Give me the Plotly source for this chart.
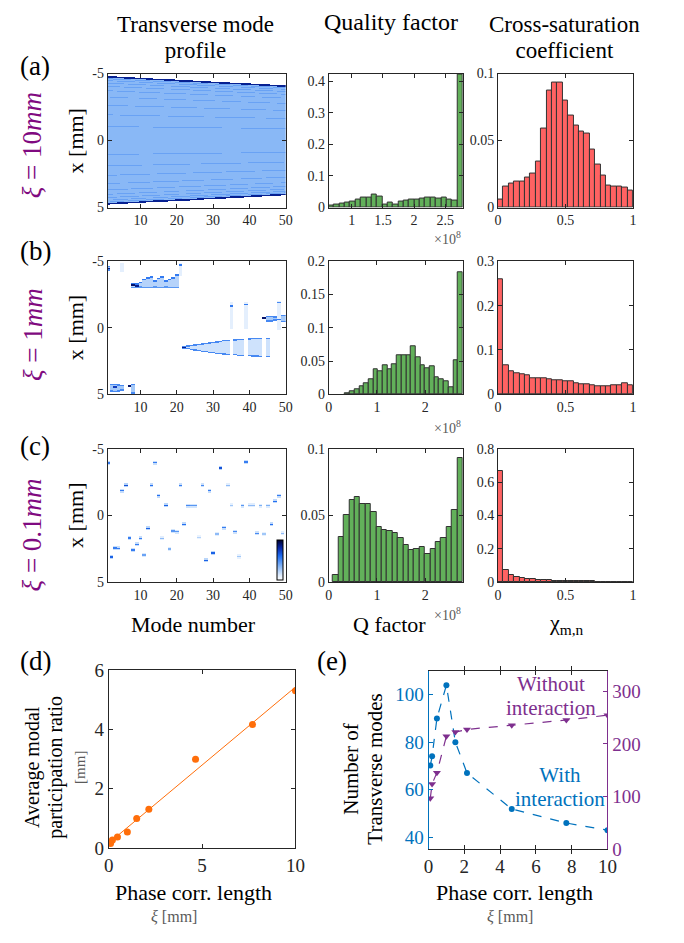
import numpy as np
import plotly.graph_objects as go

W, H = 684, 943
SERIF = "Liberation Serif, Times New Roman, serif"
AX = "rgb(38,38,38)"
XI_COL = "rgb(128,10,128)"
BLUE = "rgb(0,114,189)"
PURPLE = "rgb(126,47,142)"
ORANGE = "rgb(255,110,10)"
GREEN = "rgb(98,176,90)"
RED = "rgb(255,98,98)"
EDGE = "rgb(50,50,50)"
GREY = "rgb(90,90,90)"

# ---------------- data: transverse mode profiles ----------------
modes = list(range(1, 51))
mode_ticks = [10, 20, 30, 40, 50]
mm_ticks = [-5, 0, 5]

# (a) xi = 10 mm : envelope half-width of each mode [mm]
a_edge = [4.75, 4.74, 4.72, 4.71, 4.69, 4.68, 4.66, 4.65, 4.64, 4.62,
          4.61, 4.59, 4.58, 4.56, 4.55, 4.54, 4.52, 4.51, 4.49, 4.48,
          4.46, 4.45, 4.44, 4.42, 4.41, 4.39, 4.38, 4.36, 4.35, 4.34,
          4.32, 4.31, 4.29, 4.28, 4.26, 4.25, 4.24, 4.22, 4.21, 4.19,
          4.18, 4.16, 4.15, 4.14, 4.12, 4.11, 4.09, 4.08, 4.06, 4.05]
a_stripe_frac = [0.97, 0.94, 0.9, 0.85, 0.78, 0.68, 0.55, 0.4, 0.22]

# (b) xi = 1 mm
b_stair_mode = [8, 9, 10, 11, 12, 13, 14, 15, 16, 17, 18, 19, 20]
b_stair_top = [-3.3, -3.3, -3.4, -3.6, -3.75, -3.8, -3.5, -3.7, -3.8, -3.5, -3.65, -3.75, -3.95]
b_stair_bot = [-3.0, -3.0, -3.05, -3.0, -3.0, -3.0, -3.05, -3.0, -3.0, -3.05, -3.0, -3.0, -3.0]

b_wedge_mode = [22, 23, 24, 25, 26, 27, 28, 29, 30, 31, 32, 33, 34, 36, 37, 38, 40, 41, 42, 43, 45]
b_wedge_top = [1.45, 1.40, 1.36, 1.32, 1.28, 1.24, 1.20, 1.16, 1.12, 1.08, 1.04, 1.00, 0.97,
               0.93, 0.90, 0.88, 0.86, 0.85, 0.84, 0.83, 0.83]
b_wedge_bot = [1.55, 1.60, 1.65, 1.70, 1.74, 1.78, 1.82, 1.86, 1.90, 1.93, 1.96, 1.99, 2.01,
               2.05, 2.08, 2.10, 2.12, 2.14, 2.15, 2.16, 2.18]

b_col_mode = [5, 21, 35, 39, 48]
b_col_top = [-4.85, -4.85, -1.9, -1.9, -2.0]
b_col_bot = [-4.2, -3.85, 0.15, 0.15, 0.2]

b_blk_mode = [1, 2, 3, 4, 5, 8, 45, 46, 47, 49, 50]
b_blk_top = [-4.6, 4.3, 4.3, 4.35, 4.4, 4.3, -0.85, -0.85, -0.8, -0.9, -0.9]
b_blk_bot = [-4.35, 4.8, 4.85, 4.8, 4.7, 4.95, -0.5, -0.5, -0.55, -0.45, -0.45]

b_dot_mode = [1, 3, 7, 8, 9, 22, 35, 39, 44, 48, 48, 21]
b_dot_y = [-4.45, 4.5, 4.4, -3.2, -3.15, 1.5, -1.65, -1.75, -0.68, -1.9, -0.6, -4.7]
b_dot_v = [0.85, 0.75, 0.9, 0.9, 0.85, 0.85, 0.55, 0.55, 0.9, 0.5, 0.55, 0.55]

# (c) xi = 0.1 mm : one localized mode per column
c_mode = list(range(1, 50))
c_y = [-3.95, 3.14, 2.46, 2.50, -1.87, -2.26, 1.70, 2.60, 2.19, 1.75,
       3.00, 0.99, -2.26, -3.97, -1.48, 1.75, -0.77, 2.53, 1.20, 1.24,
       -2.26, 0.70, -0.73, -0.73, -0.73, 1.67, -2.26, 3.40, -1.87, 2.85,
       1.43, -3.58, 0.94, -2.26, -0.77, 1.24, 3.10, -0.73, -4.00, -0.77,
       -0.77, 1.36, -0.73, 1.43, -0.73, 0.70, -1.06, -1.48, 1.36]
c_val = [0.6, 0.7, 0.6, 0.6, 0.6, 0.75, 0.6, 0.6, 0.6, 0.6,
         0.45, 0.7, 0.65, 0.6, 0.65, 0.35, 0.7, 0.4, 0.5, 0.5,
         0.6, 0.65, 0.55, 0.5, 0.5, 0.25, 0.55, 0.7, 0.6, 0.7,
         0.35, 0.75, 0.6, 0.35, 0.3, 0.55, 0.3, 0.5, 0.6, 0.35,
         0.35, 0.55, 0.4, 0.3, 0.4, 0.65, 0.65, 0.6, 0.35]

# ---------------- data: quality factor histograms (Q in units of 1e8) ----------------
q_hi = 2.78
q_a_lo, q_b_lo, q_c_lo = 0.63, 0.34, 0.09
q_a = [0.006, 0.010, 0.013, 0.016, 0.020, 0.025, 0.033, 0.033, 0.042, 0.036,
       0.010, 0.016, 0.010, 0.020, 0.022, 0.025, 0.025, 0.028, 0.030, 0.030,
       0.028, 0.030, 0.025, 0.022, 0.42]
q_b = [0.002, 0.004, 0.008, 0.012, 0.016, 0.023, 0.038, 0.035, 0.043, 0.038,
       0.045, 0.059, 0.058, 0.058, 0.072, 0.056, 0.044, 0.039, 0.042, 0.025,
       0.023, 0.020, 0.011, 0.051, 0.183]
q_c = [0.005, 0.034, 0.050, 0.062, 0.064, 0.059, 0.059, 0.053, 0.041, 0.039,
       0.038, 0.037, 0.033, 0.028, 0.024, 0.025, 0.026, 0.021, 0.025, 0.030,
       0.033, 0.041, 0.054, 0.093]

# ---------------- data: cross-saturation histograms ----------------
chi_lo, chi_hi = 0.0, 1.0
chi_a = [0.006, 0.0156, 0.0178, 0.0193, 0.0195, 0.022, 0.025, 0.034, 0.059, 0.087,
         0.093, 0.093, 0.080, 0.069, 0.061, 0.057, 0.055, 0.043, 0.032, 0.024,
         0.0166, 0.0159, 0.0156, 0.0149, 0.0129]
chi_b = [0.26, 0.066, 0.051, 0.047, 0.044, 0.042, 0.037, 0.035, 0.035, 0.033,
         0.031, 0.031, 0.029, 0.029, 0.024, 0.022, 0.022, 0.020, 0.019, 0.019,
         0.019, 0.020, 0.021, 0.024, 0.020]
chi_c = [0.67, 0.070, 0.043, 0.031, 0.023, 0.019, 0.016, 0.013, 0.011, 0.010,
         0.008, 0.007, 0.006, 0.005, 0.004, 0.004, 0.003, 0.003, 0.002, 0.002,
         0.002, 0.001, 0.001, 0.001, 0.001]

# ---------------- data: (d) and (e) ----------------
xi_mm = [0.1, 0.2, 0.47, 1.0, 1.5, 2.15, 4.65, 7.7, 10.0]
part_ratio = [0.15, 0.27, 0.37, 0.54, 0.99, 1.30, 2.99, 4.16, 5.30]
n_with = [70.1, 74.0, 90.0, 104.0, 80.0, 67.0, 51.8, 45.9, 42.9]
n_without = [96.5, 123.7, 145.3, 214.6, 222.6, 227.6, 235.6, 245.5, 254.8]

# ---------------- build mode-profile images ----------------
yg = np.linspace(-5, 5, 401)


def band(z, m, lo, hi, v):
    sel = (yg >= lo) & (yg <= hi)
    z[sel, m - 1] = np.maximum(z[sel, m - 1], v)


def line(z, m, y, v, hw=0.07):
    band(z, m, y - hw, y + hw, v)


za = np.zeros((len(yg), len(modes)))
for m, e in zip(modes, a_edge):
    band(za, m, -e, e, 0.33)
    for f in a_stripe_frac:
        line(za, m, -f * e, 0.41, 0.03)
        line(za, m, f * e, 0.41, 0.03)
    line(za, m, -e, 0.84, 0.06)
    line(za, m, e, 0.84, 0.06)

zb = np.zeros((len(yg), len(modes)))
for m, t, b in zip(b_col_mode, b_col_top, b_col_bot):
    band(zb, m, t, b, 0.1)
for m, t, b in zip(b_blk_mode, b_blk_top, b_blk_bot):
    band(zb, m, t, b, 0.26)
    line(zb, m, t, 0.5, 0.05)
    line(zb, m, b, 0.5, 0.05)
for m, t, b in zip(b_stair_mode, b_stair_top, b_stair_bot):
    band(zb, m, t, b, 0.22)
    line(zb, m, t, 0.55, 0.05)
    line(zb, m, b, 0.45, 0.05)
for m, t, b in zip(b_wedge_mode, b_wedge_top, b_wedge_bot):
    band(zb, m, t, b, 0.16)
    line(zb, m, t, 0.5, 0.05)
    line(zb, m, b, 0.5, 0.05)
for m, y, v in zip(b_dot_mode, b_dot_y, b_dot_v):
    line(zb, m, y, v, 0.07)

zc = np.zeros((len(yg), len(modes)))
for m, y, v in zip(c_mode, c_y, c_val):
    line(zc, m, y, 0.3 * v, 0.15)
    line(zc, m, y, 0.9 * v, 0.055)

CS = [[0.0, "rgb(255,255,255)"], [0.12, "rgb(222,236,253)"], [0.36, "rgb(125,176,245)"],
      [0.6, "rgb(30,108,240)"], [0.8, "rgb(8,40,170)"], [1.0, "rgb(0,0,45)"]]

# ---------------- layout helpers ----------------
COLS = [(105, 287), (331, 468), (504, 642)]
ROWS = [(65, 202), (257, 393), (449, 585)]


def dx(l, r):
    return [l / W, r / W]


def dy(t, b):
    return [1 - b / H, 1 - t / H]


def axis(domain, rng, tickvals, ticktext, anchor, size=14, **kw):
    d = dict(domain=domain, range=rng, tickvals=tickvals, ticktext=ticktext, anchor=anchor,
             showline=True, linecolor=AX, linewidth=1, mirror="allticks", ticks="inside",
             ticklen=4, tickcolor=AX, showgrid=False, zeroline=False,
             tickfont=dict(family=SERIF, size=size, color=AX))
    d.update(kw)
    return d


fig = go.Figure()
layout = {}

heat_z = [za, zb, zc]
q_data = [(q_a_lo, q_a), (q_b_lo, q_b), (q_c_lo, q_c)]
chi_data = [chi_a, chi_b, chi_c]
q_ranges = [[0.63, 2.78], [0, 2.78], [0, 2.78]]
q_ticks = [([1, 1.5, 2, 2.5], ["1", "1.5", "2", "2.5"]), ([0, 1, 2], ["0", "1", "2"]), ([0, 1, 2], ["0", "1", "2"])]
q_y = [([0, 0.1, 0.2, 0.3, 0.4], ["0", "0.1", "0.2", "0.3", "0.4"], 0.424),
       ([0, 0.05, 0.1, 0.15, 0.2], ["0", "0.05", "0.1", "0.15", "0.2"], 0.2),
       ([0, 0.05, 0.1], ["0", "0.05", "0.1"], 0.1)]
chi_y = [([0, 0.05, 0.1], ["0", "0.05", "0.1"], 0.1),
         ([0, 0.1, 0.2, 0.3], ["0", "0.1", "0.2", "0.3"], 0.3),
         ([0, 0.2, 0.4, 0.6, 0.8], ["0", "0.2", "0.4", "0.6", "0.8"], 0.8)]

for r in range(3):
    ydom = dy(*ROWS[r])
    # heatmap
    i = r * 3 + 1
    hm = dict(z=heat_z[r], x=modes, y=yg, zmin=0, zmax=1, colorscale=CS, zsmooth=False,
              xaxis=f"x{i}", yaxis=f"y{i}", showscale=(r == 2), hoverinfo="skip")
    if r == 2:
        hm["colorbar"] = dict(x=278 / W, xanchor="left", y=1 - 583 / H, yanchor="bottom",
                              len=40, lenmode="pixels", thickness=6, thicknessmode="pixels",
                              outlinewidth=1, outlinecolor="black", showticklabels=False,
                              ticks="", xpad=0, ypad=0)
    fig.add_trace(go.Heatmap(**hm))
    layout[f"xaxis{i}"] = axis(dx(*COLS[0]), [1, 50], mode_ticks, [str(t) for t in mode_ticks], f"y{i}")
    layout[f"yaxis{i}"] = axis(ydom, [5, -5], mm_ticks, ["-5", "0", "5"], f"x{i}")

    # quality factor histogram
    i = r * 3 + 2
    lo, h = q_data[r]
    w = (q_hi - lo) / len(h)
    centers = [lo + (k + 0.5) * w for k in range(len(h))]
    fig.add_trace(go.Bar(x=centers, y=h, width=w, xaxis=f"x{i}", yaxis=f"y{i}",
                         marker=dict(color=GREEN, line=dict(color=EDGE, width=1)), hoverinfo="skip"))
    layout[f"xaxis{i}"] = axis(dx(*COLS[1]), q_ranges[r], q_ticks[r][0], q_ticks[r][1], f"y{i}")
    layout[f"yaxis{i}"] = axis(ydom, [0, q_y[r][2]], q_y[r][0], q_y[r][1], f"x{i}")

    # cross-saturation histogram
    i = r * 3 + 3
    h = chi_data[r]
    w = (chi_hi - chi_lo) / len(h)
    centers = [chi_lo + (k + 0.5) * w for k in range(len(h))]
    fig.add_trace(go.Bar(x=centers, y=h, width=w, xaxis=f"x{i}", yaxis=f"y{i}",
                         marker=dict(color=RED, line=dict(color=EDGE, width=1)), hoverinfo="skip"))
    layout[f"xaxis{i}"] = axis(dx(*COLS[2]), [0, 1], [0, 0.5, 1], ["0", "0.5", "1"], f"y{i}")
    layout[f"yaxis{i}"] = axis(ydom, [0, chi_y[r][2]], chi_y[r][0], chi_y[r][1], f"x{i}")

# (d)
slope, icpt = np.polyfit(xi_mm, part_ratio, 1)
fit_x = [0, 10]
fig.add_trace(go.Scatter(x=fit_x, y=[icpt + slope * v for v in fit_x], mode="lines",
                         line=dict(color=ORANGE, width=1), xaxis="x10", yaxis="y10", hoverinfo="skip"))
fig.add_trace(go.Scatter(x=xi_mm, y=part_ratio, mode="markers",
                         marker=dict(color=ORANGE, size=7), xaxis="x10", yaxis="y10", hoverinfo="skip"))
layout["xaxis10"] = axis(dx(106, 297), [0, 10], [0, 5, 10], ["0", "5", "10"], "y10", size=19)
layout["yaxis10"] = axis(dy(675, 857), [0, 6], [0, 2, 4, 6], ["0", "2", "4", "6"], "x10", size=19)

# (e)
fig.add_trace(go.Scatter(x=xi_mm, y=n_with, mode="lines+markers",
                         line=dict(color=BLUE, width=1.2, dash="dash"),
                         marker=dict(color=BLUE, size=6), xaxis="x11", yaxis="y11", hoverinfo="skip"))
fig.add_trace(go.Scatter(x=xi_mm, y=n_without, mode="lines+markers",
                         line=dict(color=PURPLE, width=1.2, dash="dash"),
                         marker=dict(color=PURPLE, size=7, symbol="triangle-down"),
                         xaxis="x11", yaxis="y12", hoverinfo="skip"))
layout["xaxis11"] = axis(dx(433, 616), [0, 10], [0, 2, 4, 6, 8, 10], ["0", "2", "4", "6", "8", "10"], "y11", size=19)
layout["yaxis11"] = axis(dy(676, 858), [35, 110], [40, 60, 80, 100], ["40", "60", "80", "100"], "x11", size=19,
                         mirror=False, linecolor=BLUE, tickcolor=BLUE,
                         tickfont=dict(family=SERIF, size=19, color=BLUE))
layout["yaxis12"] = axis(dy(676, 858), [0, 339], [0, 100, 200, 300], ["0", "100", "200", "300"], "x11", size=19,
                         mirror=False, overlaying="y11", side="right", linecolor=PURPLE, tickcolor=PURPLE,
                         tickfont=dict(family=SERIF, size=19, color=PURPLE))

# ---------------- annotations ----------------
anns = []


def ann(text, px, py, size, color="black", angle=0, xanchor="center", yanchor="middle"):
    anns.append(dict(text=text, x=px / W, y=1 - py / H, xref="paper", yref="paper",
                     showarrow=False, textangle=angle, xanchor=xanchor, yanchor=yanchor,
                     font=dict(family=SERIF, size=size, color=color)))


def lines(parts, size, gap, extra=""):
    """stacked lines at font `size` with baseline spacing `gap` px"""
    s = f"<span style='font-size:{size}px{extra}'>"
    return "<br>".join(f"{s}{p}</span>" for p in parts), gap / 1.3


t, b = lines(["Transverse mode", "profile"], 23, 26)
ann(t, 195, 0, b, yanchor="top")
ann("Quality factor", 395, 12, 24)
t, b = lines(["Cross-saturation", "coefficient"], 23, 26)
ann(t, 572, 0, b, yanchor="top")

for lbl, py in [("(a)", 57), ("(b)", 247), ("(c)", 446), ("(d)", 666)]:
    ann(lbl, 31, py, 27)
ann("(e)", 334, 666, 27)

ann("<i>ξ</i> = 10<i>mm</i>", 28, 138, 27, XI_COL, -90)
ann("<i>ξ</i> = 1<i>mm</i>", 28, 332, 27, XI_COL, -90)
ann("<i>ξ</i> = 0.1<i>mm</i>", 28, 537, 27, XI_COL, -90)

for py in [134, 325, 517]:
    ann("x [mm]", 72, py, 22, "black", -90)
for py in [233, 426, 618]:
    ann("×10<sup>8</sup>", 468, py, 14, GREY, xanchor="right")

ann("Mode number", 193, 628, 22)
ann("Q factor", 393, 628, 22)
ann("χ<sub>m,n</sub>", 574, 628, 22)

s20 = "<span style='font-size:20px'>"
ann(f"{s20}Average modal</span><br>{s20}participation ratio</span><br>"
    f"<span style='font-size:15px;color:rgb(90,90,90)'>[mm]</span>",
    51, 774, 23 / 1.3, "black", -90)
ann("Phase corr. length", 193, 903, 22)
ann("<i>ξ</i> [mm]", 173, 927, 16, GREY)

t, b = lines(["Number of", "Transverse modes"], 21, 24)
ann(t, 366, 776, b, "black", -90)
ann("Phase corr. length", 521, 903, 22)
ann("<i>ξ</i> [mm]", 516, 927, 16, GREY)

t, b = lines(["Without", "interaction"], 21, 24)
ann(t, 558, 702, b, PURPLE)
t, b = lines(["With", "interaction"], 21, 24)
ann(t, 567, 795, b, BLUE)

fig.update_layout(width=W, height=H, margin=dict(l=0, r=0, t=0, b=0),
                  paper_bgcolor="white", plot_bgcolor="white", showlegend=False,
                  bargap=0, annotations=anns, **layout)
fig.write_html("out.html")
